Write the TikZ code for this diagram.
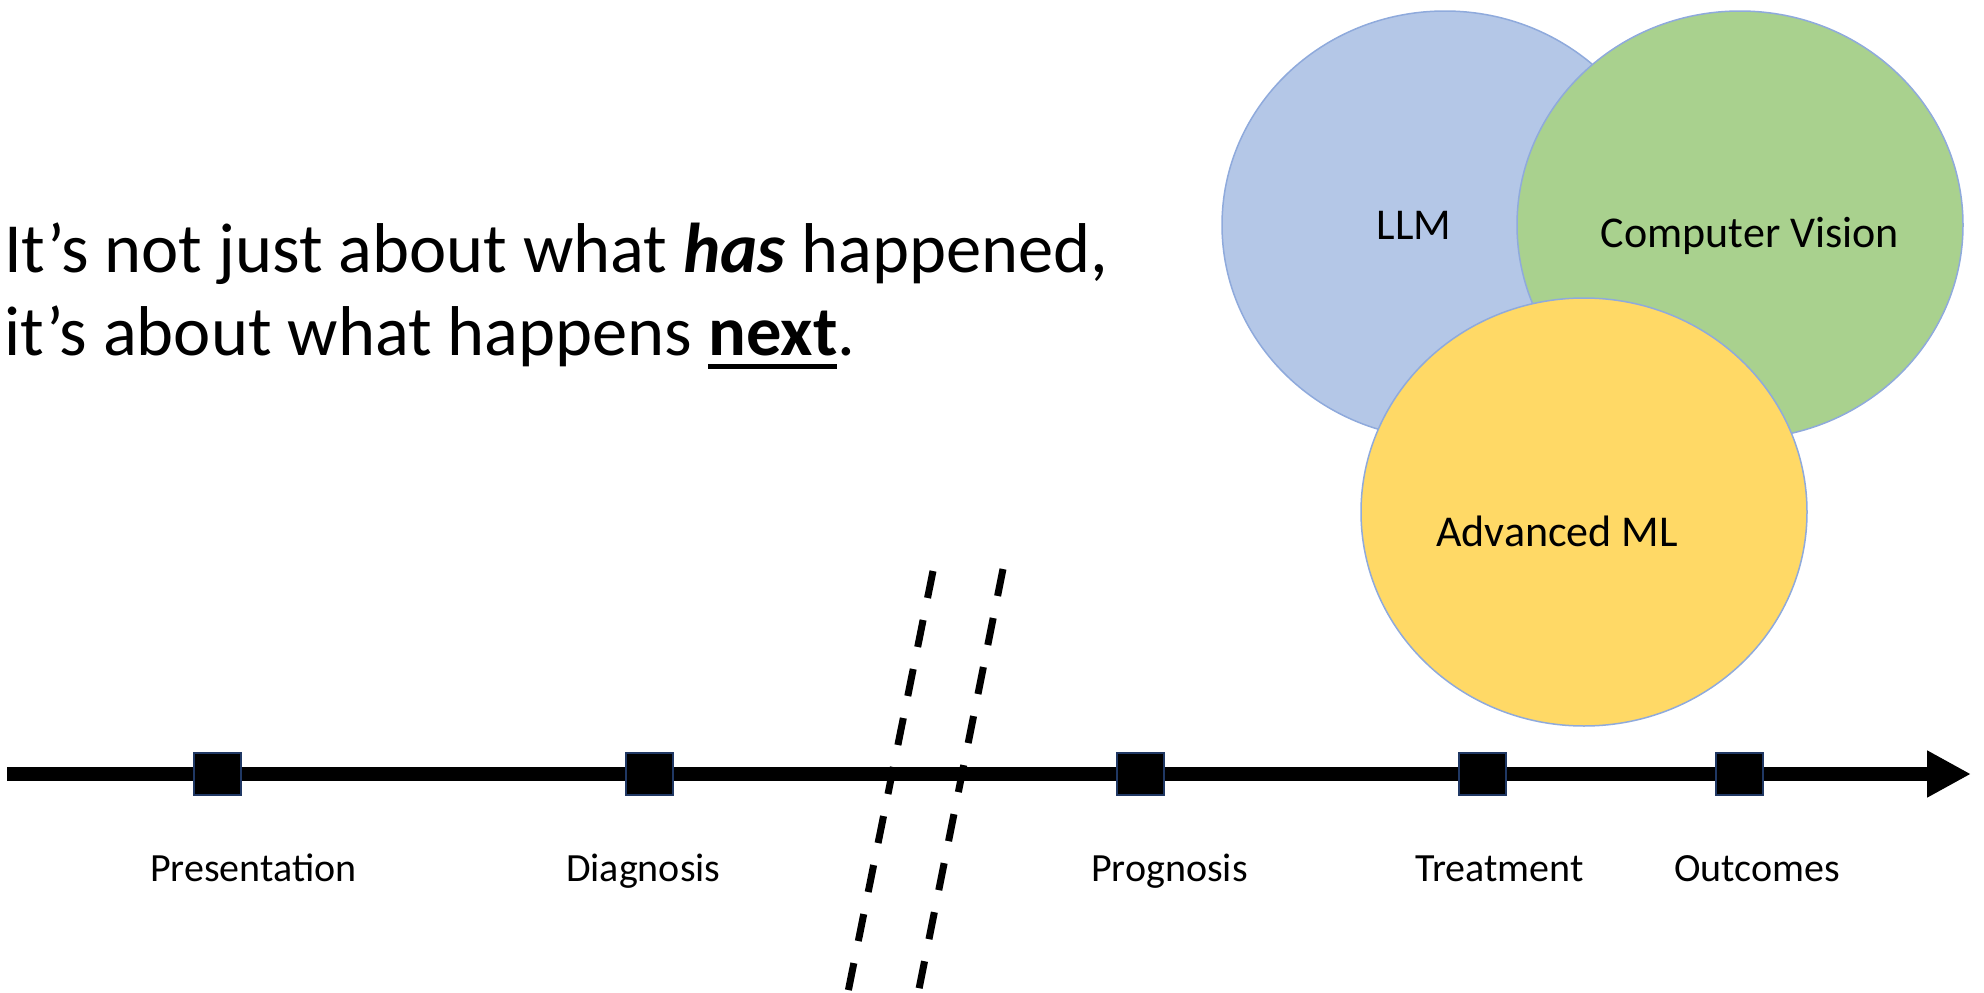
\documentclass[tikz,border=0pt]{standalone}
\usepackage{fontspec}
\setmainfont{Carlito}
\usetikzlibrary{shapes.geometric,arrows.meta}

\definecolor{llmblue}{HTML}{B4C7E7}
\definecolor{cvgreen}{HTML}{A9D18E}
\definecolor{mlgold}{HTML}{FFD966}
\definecolor{vennedge}{HTML}{8FAADC}
\definecolor{stepedge}{HTML}{203864}

\newcommand{\underword}[1]{{\setbox0\hbox{#1}\rlap{\rule[-13.5pt]{\wd0}{4.5pt}}\box0}}

\begin{document}
\begin{tikzpicture}[x = 1pt, y = -1pt,
  venn/.style = {ellipse, draw = vennedge, line width = 1.5pt, minimum width = 446pt, minimum height = 428pt, inner sep = 0pt},
  vennlabel/.style = {font = \fontsize{44}{52}\selectfont, anchor = base, inner sep = 0pt},
  stepbox/.style = {rectangle, fill = black, draw = stepedge, line width = 2pt, minimum width = 47pt, minimum height = 42pt, inner sep = 0pt},
  steplabel/.style = {font = \fontsize{40}{48}\selectfont, anchor = base west, inner sep = 0pt},
  headline/.style = {font = \fontsize{70.5}{83}\selectfont, anchor = base west, inner sep = 0pt},
  cutline/.style = {line width = 7pt, dash pattern = on 27.5pt off 22.5pt}]
\useasboundingbox (0,0) rectangle (1984,993);

% headline
\node[headline] (title1) at (4,272) {It’s not just about what \textbf{\textit{has}} happened,};
\node[headline] (title2) at (4,355) {it’s about what happens \underword{\textbf{next}}.};

% venn of methods
\node[venn, fill = llmblue] (llm) at (1445,225) {};
\node[venn, fill = cvgreen] (cv) at (1740,225) {};
\node[venn, fill = mlgold] (ml) at (1584,512) {};
\node[vennlabel] (llmtext) at (1414,239) {LLM};
\node[vennlabel] (cvtext) at (1750,247) {Computer Vision};
\node[vennlabel] (mltext) at (1557,546) {Advanced ML};

% timeline
\coordinate (tstart) at (7,774);
\coordinate (tend) at (1971,774);
\draw[line width = 14pt, -{Triangle[length = 44pt, width = 44pt]}] (tstart) -- (tend);
\foreach \x/\name in {217.5/pres, 649/diag, 1140.5/prog, 1482/treat, 1739.5/outc}
  \node[stepbox] (\name) at (\x,774) {};
\node[steplabel] (prestext) at (150,881) {Presentation};
\node[steplabel] (diagtext) at (566,881) {Diagnosis};
\node[steplabel] (progtext) at (1091,881) {Prognosis};
\node[steplabel] (treattext) at (1415,881) {Treatment};
\node[steplabel] (outctext) at (1674,881) {Outcomes};

% the cut between past and future
\coordinate (cutatop) at (933,571);
\coordinate (cutabot) at (846.4,1000);
\coordinate (cutbtop) at (1003,569);
\coordinate (cutbbot) at (916.8,1000);
\draw[cutline] (cutatop) -- (cutabot);
\draw[cutline] (cutbtop) -- (cutbbot);
\end{tikzpicture}
\end{document}
